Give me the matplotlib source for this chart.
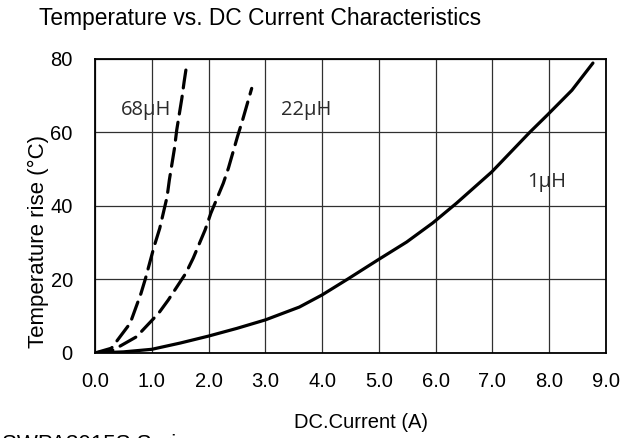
import matplotlib.pyplot as plt
import numpy as np

#####################################
# data
#####################################
x_1uH = [0, 0.5, 1.0, 1.5, 2.0, 2.5, 3.0, 3.6, 4.0, 4.45, 4.98, 5.49, 5.95, 6.37, 6.99, 7.66, 7.97, 8.4, 8.77]
y_1uH = [0, 0.3, 1.0, 2.7, 4.6, 6.7, 9.0, 12.5, 15.8, 20.1, 25.3, 30.2, 35.4, 40.8, 49.3, 60.1, 64.8, 71.5, 78.9]

x_22uH = [0, 0.32, 0.73, 1.12, 1.29, 1.60, 1.73, 1.94, 2.04, 2.26, 2.35, 2.51, 2.60, 2.76]
y_22uH = [0, 0.8, 4.4, 10.8, 14.4, 21.7, 25.8, 33.5, 38.0, 46.2, 50.3, 58.9, 63.4, 72.0]

x_68uH = [0, 0.29, 0.44, 0.62, 0.81, 0.89, 1.04, 1.14, 1.27, 1.31, 1.40, 1.44, 1.53, 1.57, 1.61]
y_68uH = [0, 1.3, 4.4, 8.1, 16.2, 20.3, 28.9, 33.9, 42.5, 47.1, 55.7, 60.7, 69.3, 73.8, 77.9]

x_ticks = np.arange(0, 10, 1)
x_ticklabels = ['0.0', '1.0', '2.0', '3.0', '4.0', '5.0', '6.0', '7.0', '8.0', '9.0']
y_ticks = [0, 20, 40, 60, 80]

#####################################
# plot
#####################################
plt.rcParams['font.family'] = ['Liberation Sans', 'DejaVu Sans']
plt.rcParams['lines.scale_dashes'] = False

fig = plt.figure(figsize=(6.2, 4.38), dpi=100)
ax = fig.add_axes([0.1532, 0.1941, 0.8242, 0.6712])

ax.plot(x_1uH, y_1uH, c='black', lw=2.3, solid_capstyle='round')
ax.plot(x_22uH, y_22uH, c='black', lw=2.3, dashes=(13, 6), dash_capstyle='round')
ax.plot(x_68uH, y_68uH, c='black', lw=2.3, dashes=(13, 6), dash_capstyle='round')

ax.set_xlim(0, 9)
ax.set_ylim(0, 80)
ax.set_xticks(x_ticks)
ax.set_xticklabels(x_ticklabels)
ax.set_yticks(y_ticks)
ax.grid(True, color='#303030', lw=0.9)
ax.tick_params(length=0, labelsize=14.5)
ax.tick_params(axis='x', pad=14)
ax.tick_params(axis='y', pad=16)
for sp in ax.spines.values():
    sp.set_linewidth(1.3)

lab_font = dict(family=['Open Sans', 'DejaVu Sans'], fontsize=14.5, color='#2a2a2a',
                ha='center', va='center')
ax.text(0.90, 66.1, '68μH', **lab_font)
ax.text(3.72, 66.1, '22μH', **lab_font)
ax.text(7.96, 46.5, '1μH', **lab_font)

fig.text(260 / 620, 1 - 18 / 438, 'Temperature vs. DC Current Characteristics',
         ha='center', va='center', fontsize=16.4)
fig.text(38 / 620, 1 - 241 / 438, 'Temperature rise (°C)', rotation=90,
         ha='center', va='center', fontsize=16)
fig.text(361 / 620, 1 - 423 / 438, 'DC.Current (A)', ha='center', va='center', fontsize=14.5)
fig.text(2 / 620, 1 - 434 / 438, 'SWPA3015S Series', ha='left', va='top', fontsize=16)

fig.savefig('out.png', dpi=100)
